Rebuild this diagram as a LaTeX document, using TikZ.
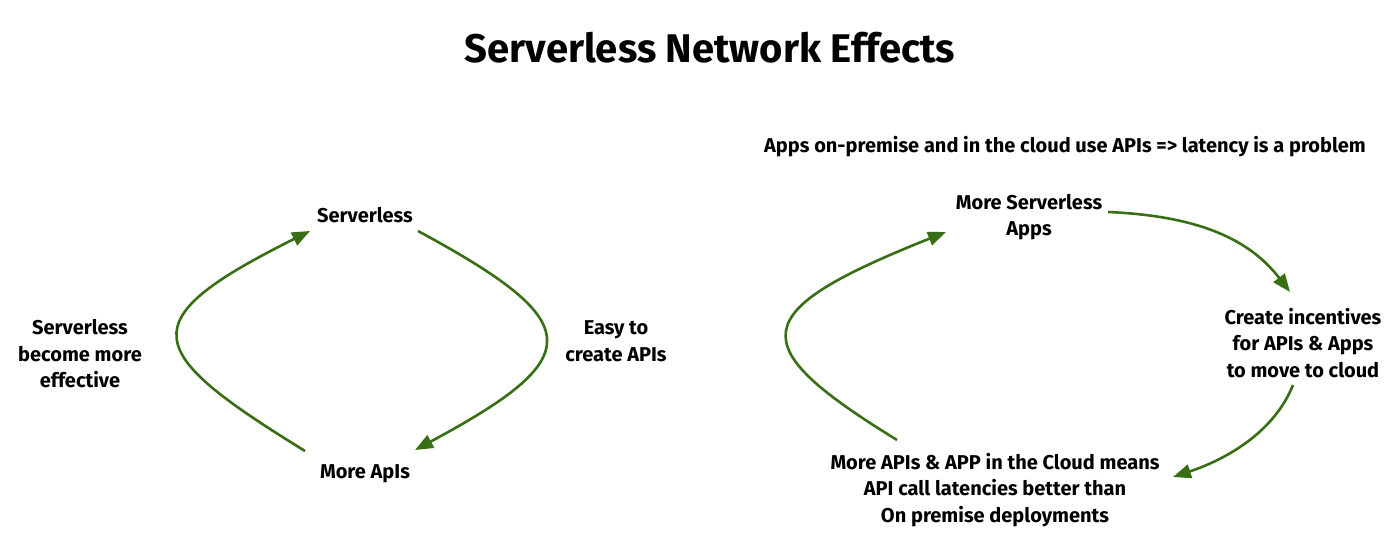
\documentclass[tikz,border=0pt]{standalone}
\usepackage{fontspec}
\setmainfont{Fira Sans}
\usetikzlibrary{arrows.meta}
\definecolor{arr}{RGB}{56,110,20}
\begin{document}
\begin{tikzpicture}[x=0.5pt,y=-0.5pt,
  lbl/.style={font=\bfseries\fontsize{10}{13.25}\selectfont, align=center, inner sep=0pt},
  ttl/.style={font=\bfseries\fontsize{20}{24}\selectfont, inner sep=0pt},
  flow/.style={draw=arr, line width=1.3pt, -{Triangle[length=9pt,width=7pt]}}]
\useasboundingbox (0,0) rectangle (1400,544);
\fill[white] (0,0) rectangle (1400,544);

\node[ttl] (title) at (710,48) {Serverless Network Effects};
\node[lbl] (note) at (1065,147) {Apps on-premise and in the cloud use APIs => latency is a problem};

% left cycle
\node[lbl] (srv) at (365,215) {Serverless};
\node[lbl] (apis) at (365,474) {More ApIs};
\node[lbl] (eff) at (80,354) {Serverless\\become more\\effective};
\node[lbl] (easy) at (616,341) {Easy to\\create APIs};

\coordinate (srvL) at (310,231);
\coordinate (srvR) at (418,231);
\coordinate (apisL) at (305,451);
\coordinate (apisR) at (415,450);

\draw[flow] (srvR) .. controls (588,323) and (588,357) .. (apisR);
\draw[flow] (apisL) .. controls (141,350) and (130,321) .. (srvL);

% right cycle
\node[lbl] (msa) at (1029,217) {More Serverless\\Apps};
\node[lbl] (inc) at (1303,343) {Create incentives\\for APIs \& Apps\\to move to cloud};
\node[lbl] (cloud) at (995,490) {More APIs \& APP in the Cloud means\\API call latencies better than\\On premise deployments};

\coordinate (msaR) at (1108,212);
\coordinate (msaL) at (946,232);
\coordinate (incT) at (1290,292);
\coordinate (incB) at (1293,385);
\coordinate (cloudR) at (1173,477);
\coordinate (cloudL) at (897,440);

\draw[flow] (msaR) .. controls (1200,216) and (1250,240) .. (incT);
\draw[flow] (incB) .. controls (1275,430) and (1230,458) .. (cloudR);
\draw[flow] (cloudL) .. controls (741,344) and (746,312) .. (msaL);
\end{tikzpicture}
\end{document}
